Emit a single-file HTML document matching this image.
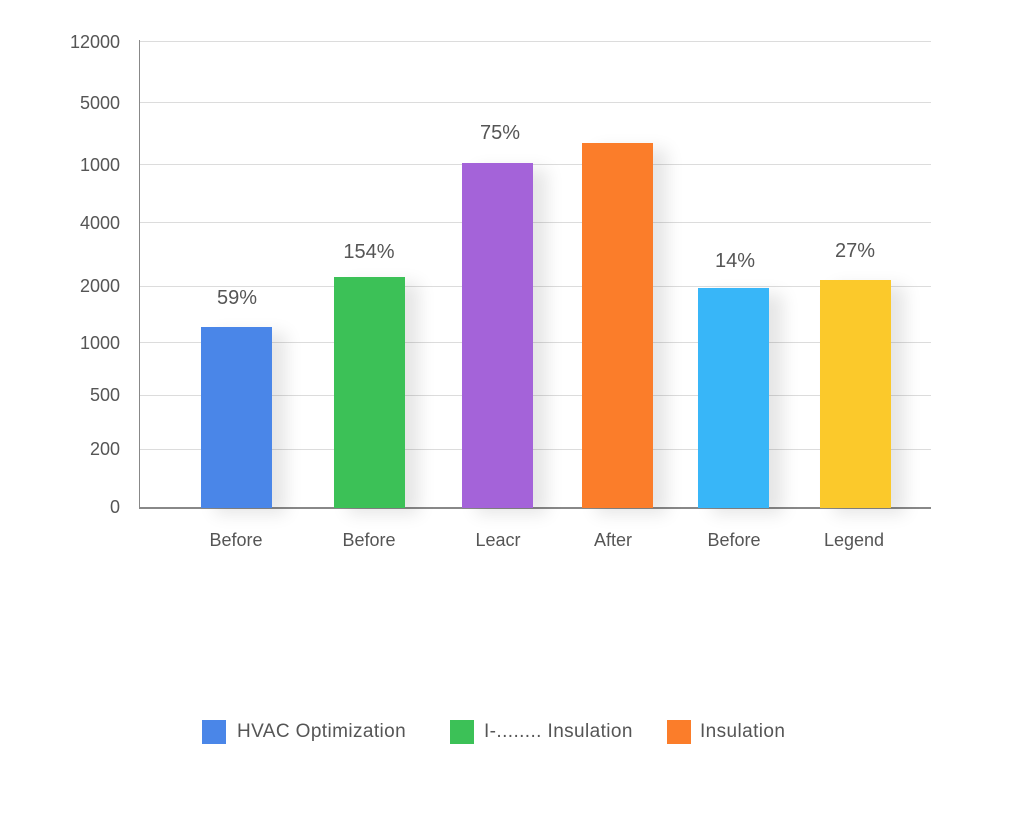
<!DOCTYPE html>
<html><head><meta charset="utf-8"><style>
body{margin:0;width:1024px;height:814px;background:#fff;font-family:"Liberation Sans",sans-serif;position:relative;overflow:hidden}
.g{position:absolute;left:140px;width:791px;height:1px;background:#dcdcdc}
.yl{position:absolute;left:40px;width:80px;text-align:right;font-size:18px;color:#555}
.b{position:absolute;bottom:306px;width:71px;box-shadow:14px 6px 16px rgba(0,0,0,0.10)}
.v{position:absolute;width:120px;text-align:center;font-size:20px;color:#555}
.x{position:absolute;top:530px;width:120px;text-align:center;font-size:18px;color:#555}
.lg{position:absolute;top:720px;width:24px;height:24px}
.lt{position:absolute;top:721px;font-size:19px;letter-spacing:0.4px;color:#555}
</style></head><body>
<div class="g" style="top:41px"></div><div class="g" style="top:102px"></div><div class="g" style="top:164px"></div><div class="g" style="top:222px"></div><div class="g" style="top:286px"></div><div class="g" style="top:342px"></div><div class="g" style="top:395px"></div><div class="g" style="top:449px"></div>
<div style="position:absolute;left:139px;top:40px;width:1px;height:469px;background:#888"></div>
<div style="position:absolute;left:139px;top:507px;width:792px;height:2px;background:#888"></div>
<div class="yl" style="top:32px">12000</div><div class="yl" style="top:93px">5000</div><div class="yl" style="top:155px">1000</div><div class="yl" style="top:213px">4000</div><div class="yl" style="top:276px">2000</div><div class="yl" style="top:333px">1000</div><div class="yl" style="top:385px">500</div><div class="yl" style="top:439px">200</div><div class="yl" style="top:497px">0</div>
<div class="b" style="left:201px;top:327px;background:#4a86e8"></div>
<div class="b" style="left:334px;top:277px;background:#3cc157"></div>
<div class="b" style="left:462px;top:163px;background:#a463d9"></div>
<div class="b" style="left:582px;top:143px;background:#fb7d2a"></div>
<div class="b" style="left:698px;top:288px;background:#38b6f8"></div>
<div class="b" style="left:820px;top:280px;background:#fbc92b"></div>
<div class="v" style="left:177px;top:287px">59%</div>
<div class="v" style="left:309px;top:241px">154%</div>
<div class="v" style="left:440px;top:122px">75%</div>
<div class="v" style="left:675px;top:250px">14%</div>
<div class="v" style="left:795px;top:240px">27%</div>
<div class="x" style="left:176px">Before</div><div class="x" style="left:309px">Before</div><div class="x" style="left:438px">Leacr</div><div class="x" style="left:553px">After</div><div class="x" style="left:674px">Before</div><div class="x" style="left:794px">Legend</div>
<div class="lg" style="left:202px;background:#4a86e8"></div><div class="lt" style="left:237px">HVAC Optimization</div>
<div class="lg" style="left:450px;background:#3cc157"></div><div class="lt" style="left:484px">I-........ Insulation</div>
<div class="lg" style="left:667px;background:#fb7d2a"></div><div class="lt" style="left:700px">Insulation</div>
</body></html>
